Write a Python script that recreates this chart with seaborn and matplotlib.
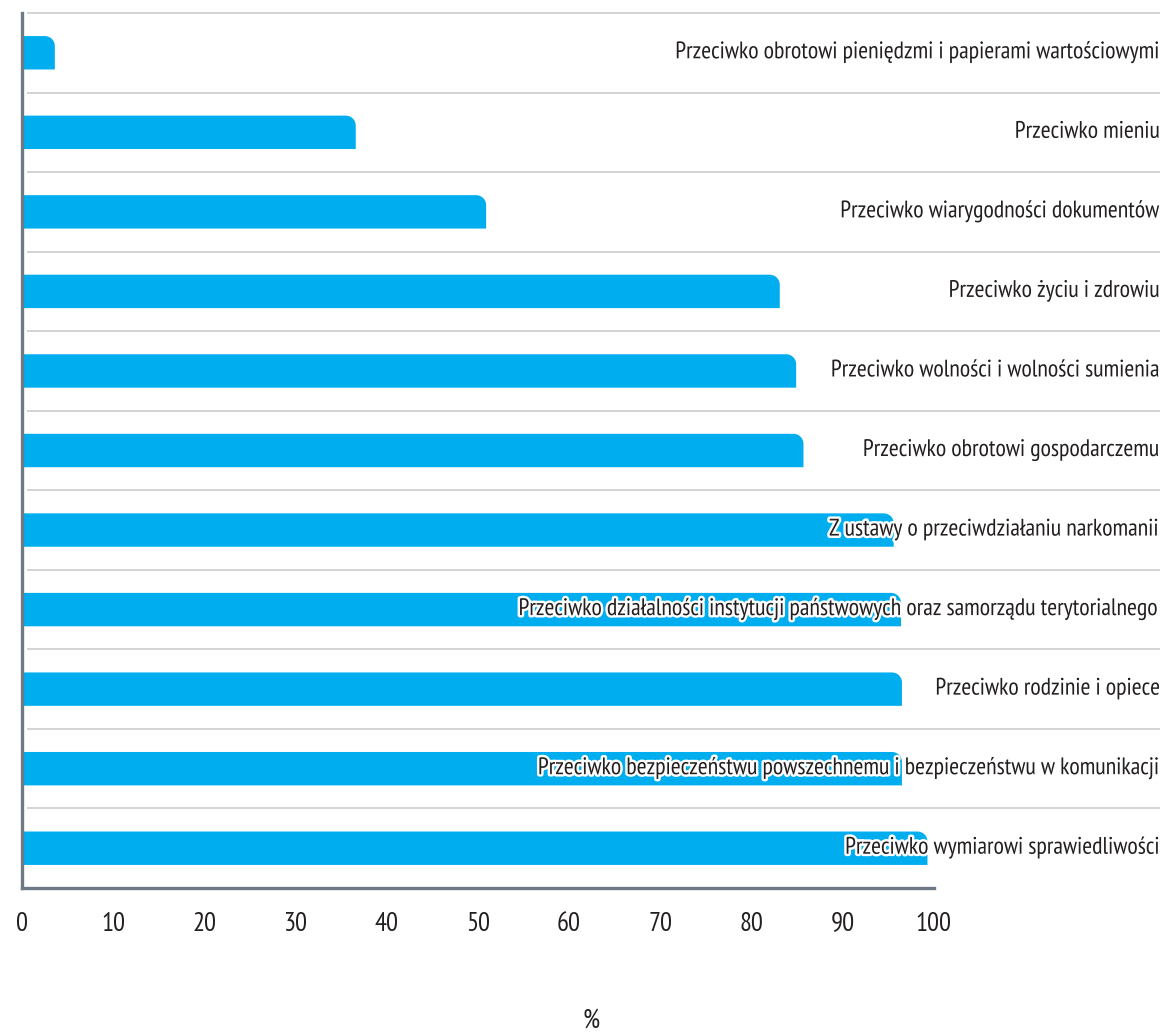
import numpy as np
import matplotlib
matplotlib.use("Agg")
import matplotlib.pyplot as plt
import matplotlib.patheffects as pe
from matplotlib import font_manager as fm
from matplotlib.path import Path
from matplotlib.patches import PathPatch
import seaborn as sns

categories = [
    "Przeciwko obrotowi pieniędzmi i papierami wartościowymi",
    "Przeciwko mieniu",
    "Przeciwko wiarygodności dokumentów",
    "Przeciwko życiu i zdrowiu",
    "Przeciwko wolności i wolności sumienia",
    "Przeciwko obrotowi gospodarczemu",
    "Z ustawy o przeciwdziałaniu narkomanii",
    "Przeciwko działalności instytucji państwowych oraz samorządu terytorialnego",
    "Przeciwko rodzinie i opiece",
    "Przeciwko bezpieczeństwu powszechnemu i bezpieczeństwu w komunikacji",
    "Przeciwko wymiarowi sprawiedliwości",
]
values = [3.6, 36.6, 50.9, 83.1, 84.9, 85.7, 95.6, 96.4, 96.5, 96.5, 99.3]
xticks = [0, 10, 20, 30, 40, 50, 60, 70, 80, 90, 100]

bar_color = "#00aeef"
axis_color = "#6d7a85"
text_color = "#231f20"

sns.set_style("white")
# pick a narrow font close to Myriad Pro Condensed
prefs = ["PT Sans Narrow", "Roboto Condensed", "Fira Sans Condensed",
         "Encode Sans Condensed", "Liberation Sans Narrow", "Roboto"]
avail = {f.name for f in fm.fontManager.ttflist}
font = next((n for n in prefs if n in avail), "DejaVu Sans")
plt.rcParams["font.family"] = [font, "DejaVu Sans"]

fig = plt.figure(figsize=(11.69, 10.35), dpi=100)
ax = fig.add_axes([22 / 1169, 1 - 888 / 1035, 1138 / 1169, 875 / 1035])

# scale the font so the longest top label spans ~485 px like the original
probe = fig.text(0, 0, categories[0], fontsize=17)
fig.canvas.draw()
fs = 17 * 485 / probe.get_window_extent().width
fs = min(fs, 19)
probe.remove()

sns.barplot(x=values, y=categories, orient="h", color=bar_color,
            saturation=1, width=0.42, ax=ax)

# round only the top-right corner of each bar
rx, ry = 1.1, 0.125
t = np.linspace(0, np.pi / 2, 12)
for p in list(ax.patches):
    x0, y0 = p.get_x(), p.get_y()
    w, h = p.get_width(), p.get_height()
    x1, ytop, ybot = x0 + w, y0, y0 + h
    arc = [(x1 - rx + rx * np.sin(a), ytop + ry - ry * np.cos(a)) for a in t]
    verts = [(x0, ybot), (x0, ytop)] + arc + [(x1, ybot), (x0, ybot)]
    codes = [Path.MOVETO] + [Path.LINETO] * (len(verts) - 2) + [Path.CLOSEPOLY]
    p.remove()
    ax.add_patch(PathPatch(Path(verts, codes), facecolor=bar_color,
                           edgecolor="none", zorder=2))

xmax = 124.8
n = len(categories)
ax.set_xlim(0, xmax)
ax.set_ylim(n - 0.5, -0.5)

ax.set_yticks(np.arange(n + 1) - 0.5)
ax.set_yticklabels([])
ax.set_xticks(xticks)
ax.set_xticklabels([str(v) for v in xticks], fontsize=fs * 1.12, color=text_color)

# separator lines between categories (none under the x axis)
ax.hlines(np.arange(n) - 0.5, 0.6, xmax, color="#cccccc", linewidth=1.2,
          zorder=0, clip_on=False)

for s in ["top", "right"]:
    ax.spines[s].set_visible(False)
for s in ["left", "bottom"]:
    ax.spines[s].set_color(axis_color)
    ax.spines[s].set_linewidth(2.4)
ax.spines["bottom"].set_bounds(0, 100)
ax.tick_params(axis="y", direction="out", length=7, width=2.4, color=axis_color)
ax.tick_params(axis="x", direction="out", length=6, width=2.4, color=axis_color,
               pad=11)

for i, label in enumerate(categories):
    ax.text(xmax, i, label, ha="right", va="center", fontsize=fs,
            color=text_color, zorder=5,
            path_effects=[pe.withStroke(linewidth=3.5, foreground="white")])

ax.set_xlabel("%", fontsize=fs * 1.12, color=text_color)
ax.xaxis.label.set_va("center")
ax.xaxis.set_label_coords(0.5, -0.152)
ax.set_ylabel("")

fig.savefig("out.png", dpi=100)
